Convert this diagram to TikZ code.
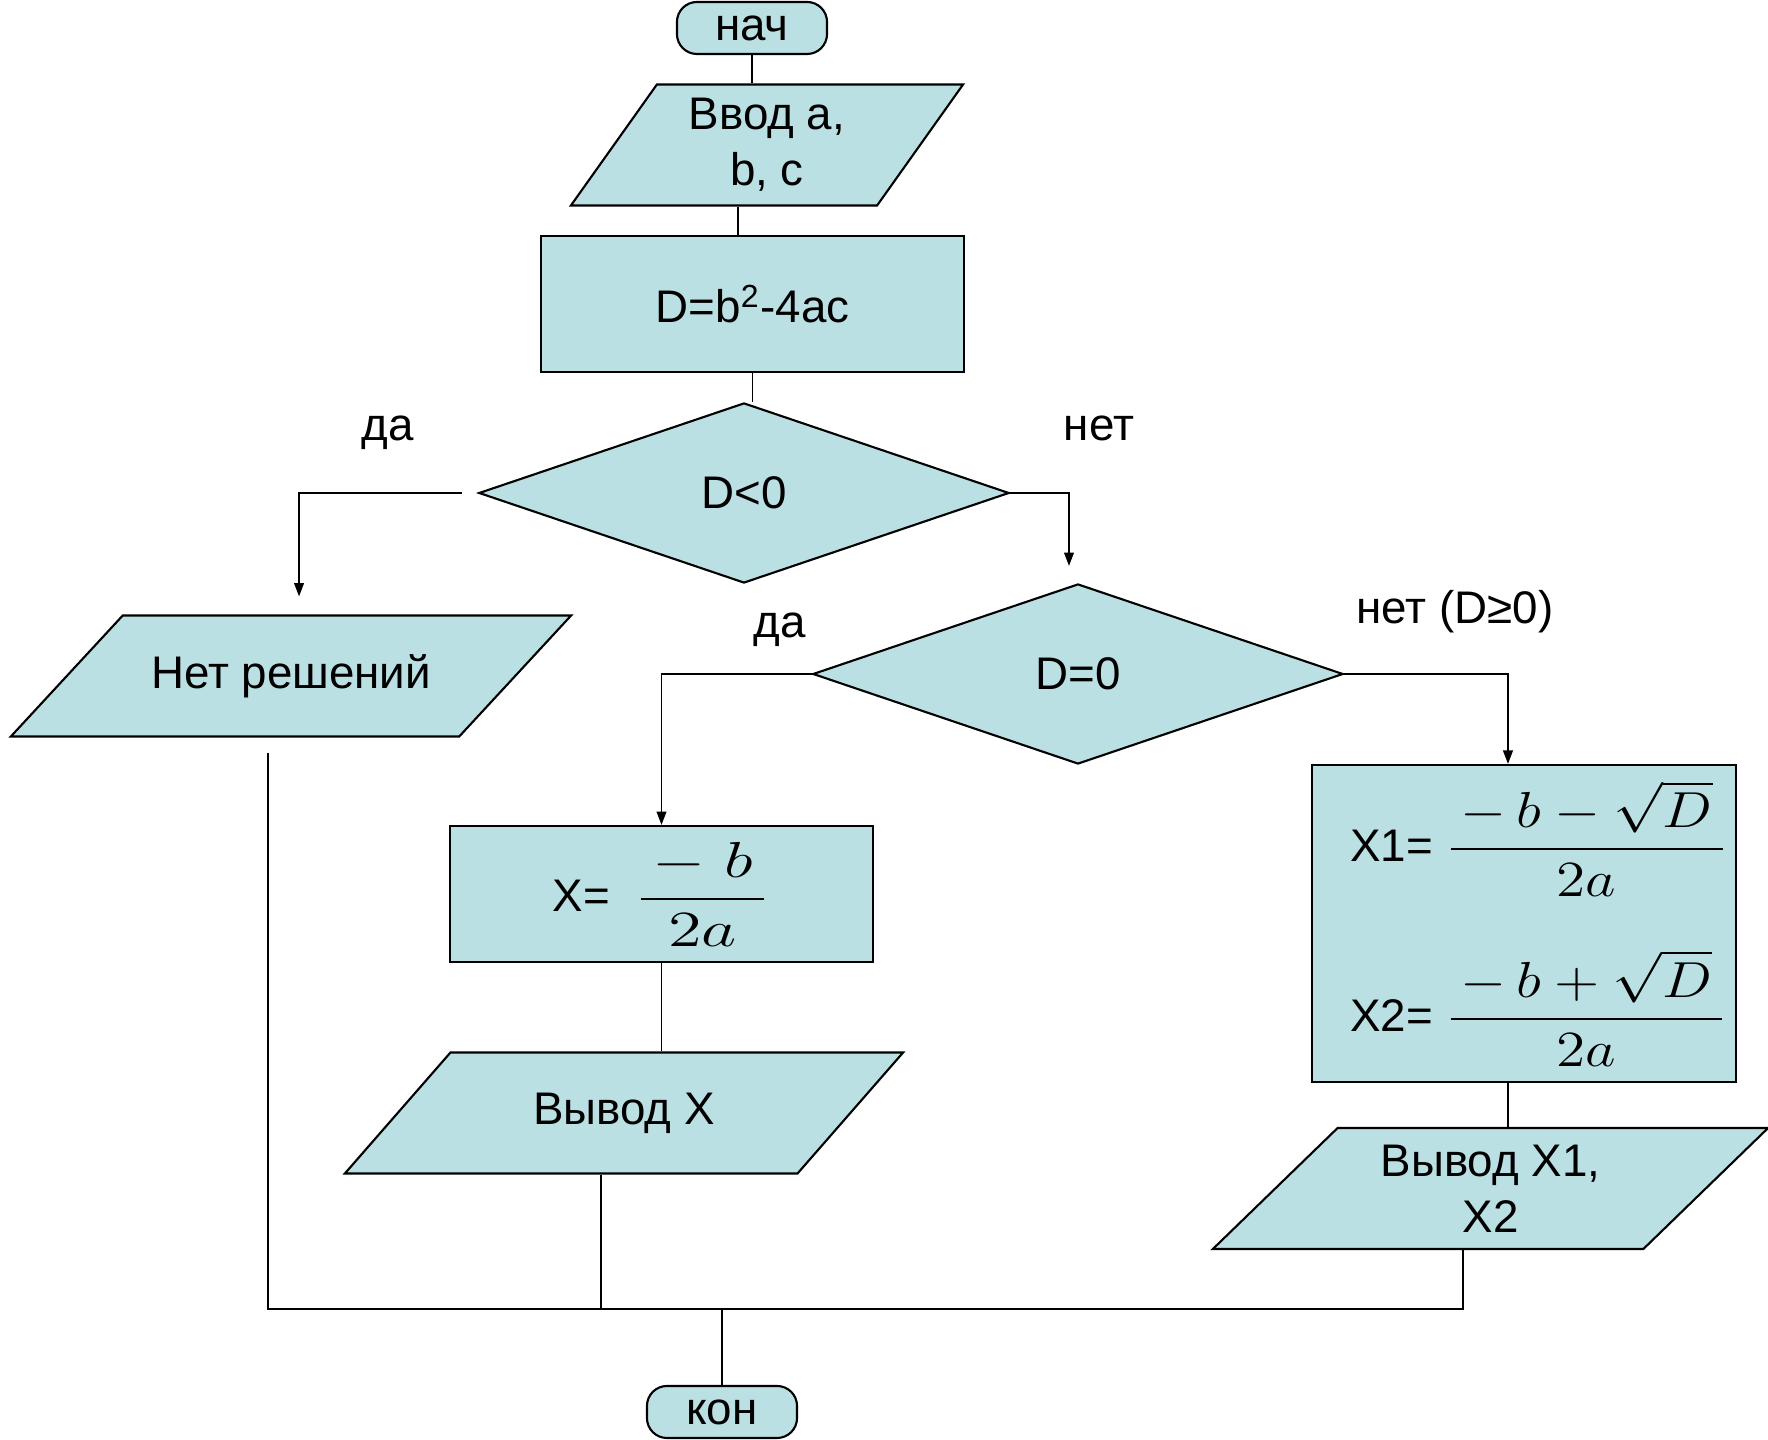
\documentclass[tikz,border=0pt]{standalone}
\usepackage[no-math]{fontspec}
\setmainfont{Liberation Sans}
\usepackage{amsmath}
\usepackage{graphicx}
\usepackage{xcolor}
\usepackage{tikz}
\usetikzlibrary{shapes.geometric, arrows.meta, positioning, calc}
\definecolor{flowfill}{RGB}{187,224,227}
\tikzstyle{startstop} = [rectangle, rounded corners=0.2cm, minimum width=1.5cm, minimum height=0.52cm, inner sep=0pt, draw=black, line width=0.6pt, fill=flowfill]
\tikzstyle{io} = [trapezium, trapezium stretches body, trapezium left angle=21.2, trapezium right angle=158.8, minimum height=1.21cm, inner sep=0pt, align=center, draw=black, line width=0.6pt, fill=flowfill]
\tikzstyle{process} = [rectangle, minimum width=4.23cm, minimum height=1.36cm, inner sep=0pt, draw=black, line width=0.6pt, fill=flowfill]
\tikzstyle{decision} = [diamond, minimum width=5.3cm, minimum height=1.8cm, inner sep=0pt, draw=black, line width=0.6pt, fill=flowfill]
\tikzstyle{arrow} = [-{Triangle[length=3.8pt,width=2.8pt]}]
\newcommand{\eqfrac}[3][1.17]{\scalebox{#1}[1]{\fontsize{14}{14}\selectfont$\displaystyle\frac{#2}{#3}$}}

\begin{document}
\begin{tikzpicture}[x=0.01cm, y=-0.01cm, font=\fontsize{13}{16}\selectfont]
  \useasboundingbox (0,0) rectangle (1768,1440);

  % Blocks
  \node[startstop] (nach) at (752,28) {нач};
  \node[io, minimum width=3.92cm, trapezium left angle=47.4, trapezium right angle=132.6] (vvod) at (767,145) {Ввод а,\\ b, c};
  \node[process] (dbox) at (752.5,304) {D=b\textsuperscript{2}-4ac};
  \node[decision] (dlt) at (744,493) {D<0};
  \node[io, minimum width=5.6cm] (noresh) at (291,676) {Нет решений};
  \node[decision] (deq) at (1078,674) {D=0};
  \node[process] (xbox) at (661.5,894) {X=\hspace{0.25cm}\eqfrac[1.35]{\,-\;b\,}{2a}\hspace{0.55cm}};
  \node[process, minimum height=3.17cm, align=left] (x12box) at (1524,923.5) {\hspace*{0.3cm}X1= \eqfrac{\,-\,b-\sqrt{D}\,}{2a}\\[0.5cm] \hspace*{0.3cm}X2= \eqfrac{\,-\,b+\sqrt{D}\,}{2a}};
  \node[io, minimum width=5.58cm, trapezium left angle=21, trapezium right angle=159] (outx) at (624,1113) {Вывод X};
  \node[io, minimum width=5.55cm, trapezium left angle=35.1, trapezium right angle=144.9] (outx12) at (1490.5,1188.5) {Вывод X1,\\ X2};
  \node[startstop] (kon) at (722,1412) {кон};

  % Branch labels
  \node at (388,433) {да};
  \node at (1099,428) {нет};
  \node at (780,630) {да};
  \node at (1455,612) {нет (D≥0)};

  % Connectors
  \draw (nach.south) -- (nach.south |- vvod.north);
  \draw ([xshift=-0.29cm]vvod.south) -- ([xshift=-0.29cm]vvod.south |- dbox.north);
  \draw (dbox.south) -- (dbox.south |- dlt.north);
  \draw[arrow] ([xshift=-0.16cm]dlt.west) -| ([xshift=0.08cm,yshift=0.18cm]noresh.north);
  \draw[arrow] (dlt.east) -| ([xshift=-0.09cm,yshift=0.17cm]deq.north);
  \draw[arrow] (deq.west) -| (xbox.north);
  \draw[arrow] (deq.east) -| ([xshift=-0.16cm]x12box.north);
  \draw (xbox.south) -- (xbox.south |- outx.north);
  \draw ([xshift=-0.16cm]x12box.south) -- ([xshift=-0.16cm]x12box.south |- outx12.north);
  \coordinate (merge) at (722,1309);
  \draw ([xshift=-0.23cm,yshift=-0.15cm]noresh.south) |- (merge);
  \draw ([xshift=-0.23cm]outx.south) |- (merge);
  \draw ([xshift=-0.275cm]outx12.south) |- (merge);
  \draw (merge) -- (kon.north);
\end{tikzpicture}
\end{document}
